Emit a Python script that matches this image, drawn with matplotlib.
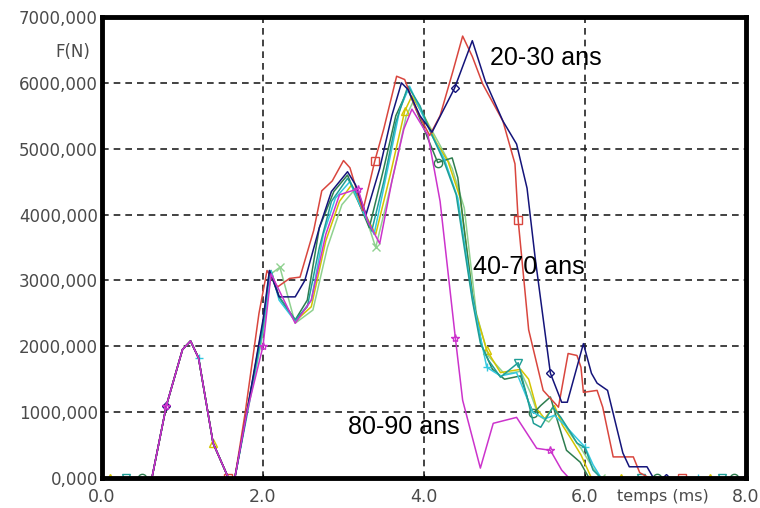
import matplotlib
matplotlib.use('Agg')
import matplotlib.pyplot as plt
import matplotlib.ticker as mticker

# debut commun a toutes les courbes (temps en ms, force en N)
t_debut = [0.0, 0.1, 0.3, 0.5, 0.62, 0.8, 1.0, 1.1, 1.2, 1.38, 1.57, 1.65]
f_debut = [0, 0, 0, 0, 0, 1100, 1950, 2080, 1820, 530, 0, 0]

# 20-30 ans
t_rouge = [1.78, 1.95, 2.05, 2.18, 2.33, 2.46, 2.63, 2.73, 2.86, 3.0, 3.08, 3.24, 3.33, 3.39,
           3.5, 3.66, 3.76, 3.9, 4.07, 4.2, 4.36, 4.48, 4.6, 4.73, 4.98, 5.13, 5.17, 5.3,
           5.48, 5.67, 5.79, 5.9, 5.95, 5.98, 6.15, 6.22, 6.35, 6.6, 6.68, 6.8, 7.2, 8.0]
f_rouge = [1000, 2500, 3150, 2900, 3030, 3050, 3760, 4360, 4510, 4820, 4710, 4060, 4510, 4820,
           5300, 6100, 6050, 5600, 5200, 5500, 6180, 6710, 6400, 5980, 5420, 4770, 3910, 2250,
           1330, 1075, 1890, 1860, 1680, 1300, 1330, 1075, 320, 320, 80, 0, 0, 0]

t_marine = [1.8, 2.0, 2.08, 2.2, 2.4, 2.52, 2.7, 2.85, 3.05, 3.15, 3.28, 3.45, 3.6, 3.72,
            3.8, 3.95, 4.1, 4.38, 4.6, 4.76, 4.98, 5.15, 5.28, 5.38, 5.57, 5.71, 5.78, 5.98,
            6.08, 6.15, 6.28, 6.47, 6.55, 6.77, 6.85, 7.0, 8.0]
f_marine = [1000, 2400, 3150, 2750, 2750, 3000, 3800, 4350, 4650, 4450, 4000, 4700, 5500, 6000,
            5900, 5500, 5250, 5920, 6640, 6030, 5420, 5070, 4400, 3350, 1590, 1150, 1150, 2040,
            1590, 1440, 1330, 380, 170, 170, 0, 0, 0]

# 80-90 ans
t_magenta = [1.8, 2.0, 2.1, 2.22, 2.4, 2.6, 2.78, 2.95, 3.18, 3.3, 3.45, 3.6, 3.75, 3.85,
             4.05, 4.2, 4.39, 4.48, 4.7, 4.86, 5.15, 5.4, 5.57, 5.71, 5.8, 8.0]
f_magenta = [1000, 2000, 3100, 2800, 2350, 2700, 3700, 4300, 4390, 3900, 3560, 4500, 5300, 5600,
             5200, 4200, 2120, 1180, 150, 830, 920, 450, 420, 120, 0, 0]

# 40-70 ans
t_sarcelle = [1.8, 2.0, 2.08, 2.2, 2.4, 2.55, 2.7, 2.85, 3.05, 3.2, 3.35, 3.5, 3.65, 3.8,
              3.95, 4.1, 4.25, 4.4, 4.6, 4.7, 4.8, 4.95, 5.17, 5.28, 5.36, 5.45, 5.6, 5.7,
              5.8, 5.9, 6.0, 6.1, 6.2, 6.7, 7.7, 8.0]
f_sarcelle = [1000, 2300, 3150, 2750, 2400, 2600, 3500, 4200, 4550, 4250, 3750, 4500, 5400, 5950,
              5650, 5200, 4800, 4300, 2700, 2050, 1790, 1530, 1750, 1230, 830, 770, 1075, 920,
              730, 530, 460, 120, 0, 0, 0, 0]

t_cyan = [1.8, 2.0, 2.1, 2.2, 2.4, 2.6, 2.75, 2.9, 3.08, 3.22, 3.38, 3.55, 3.7, 3.82,
          3.95, 4.1, 4.25, 4.42, 4.6, 4.7, 4.78, 4.95, 5.15, 5.25, 5.35, 5.5, 5.62, 5.75,
          5.9, 6.0, 6.1, 6.2, 7.4, 8.0]
f_cyan = [950, 2250, 3150, 2700, 2380, 2700, 3700, 4250, 4500, 4100, 3700, 4700, 5600, 5950,
          5600, 5200, 4850, 4250, 2750, 2150, 1680, 1550, 1600, 1300, 1000, 900, 950, 800,
          600, 470, 200, 0, 0, 0]

t_vert = [1.8, 2.0, 2.1, 2.2, 2.4, 2.55, 2.7, 2.88, 3.05, 3.2, 3.32, 3.5, 3.65, 3.8,
          4.0, 4.17, 4.35, 4.42, 4.6, 4.72, 4.85, 5.0, 5.2, 5.3, 5.36, 5.45, 5.57, 5.65,
          5.77, 5.94, 6.05, 6.9, 7.85, 8.0]
f_vert = [1000, 2350, 3150, 2750, 2400, 2700, 3800, 4350, 4600, 4150, 3800, 4700, 5500, 5900,
          5300, 4790, 4860, 4560, 2800, 2000, 1650, 1500, 1550, 1150, 985, 1100, 1230, 900,
          420, 240, 0, 0, 0, 0]

t_jaune = [1.8, 2.0, 2.1, 2.2, 2.4, 2.6, 2.78, 2.95, 3.1, 3.25, 3.4, 3.58, 3.76, 3.85,
           4.0, 4.15, 4.3, 4.45, 4.62, 4.78, 4.95, 5.2, 5.3, 5.4, 5.5, 5.62, 5.72, 5.85,
           5.95, 6.08, 6.45, 7.55, 8.0]
f_jaune = [1000, 2250, 3100, 2750, 2380, 2600, 3600, 4200, 4450, 4050, 3700, 4600, 5570, 5800,
           5500, 5100, 4800, 4250, 2600, 1940, 1600, 1650, 1500, 1050, 900, 1100, 800, 550,
           350, 0, 0, 0, 0]

t_vertclair = [1.8, 2.0, 2.1, 2.21, 2.4, 2.62, 2.8, 2.98, 3.12, 3.28, 3.4, 3.6, 3.78, 3.88,
               4.02, 4.2, 4.35, 4.5, 4.65, 4.8, 5.0, 5.2, 5.32, 5.42, 5.55, 5.65, 5.8, 5.95,
               6.1, 6.2, 8.0]
f_vertclair = [950, 2200, 3100, 3200, 2350, 2550, 3500, 4150, 4350, 3950, 3500, 4500, 5500, 5750,
               5450, 5050, 4700, 4100, 2500, 1850, 1580, 1620, 1300, 950, 850, 1000, 700, 450,
               150, 0, 0]

graduations_y = [0, 1000, 2000, 3000, 4000, 5000, 6000, 7000]
graduations_x = [0, 2, 4, 6, 8]

fig = plt.figure(figsize=(7.6, 5.08), dpi=100)
ax = fig.add_axes([0.1342, 0.0591, 0.8474, 0.9075])

# (temps, force, couleur, marqueur, index marqueurs debut, index marqueurs suite)
courbes = [
    (t_vertclair, f_vertclair, '#8fd18f', 'x', [], [3, 10, 29]),
    (t_jaune, f_jaune, '#d4c400', '^', [1, 9], [12, 19, 30, 31]),
    (t_vert, f_vert, '#2e7d4f', 'o', [3], [15, 24, 31, 32]),
    (t_cyan, f_cyan, '#33c8e0', '+', [8], [20, 29, 32]),
    (t_sarcelle, f_sarcelle, '#1f9e96', 'v', [2], [22, 33, 34]),
    (t_rouge, f_rouge, '#d9463e', 's', [10], [13, 26, 40]),
    (t_marine, f_marine, '#14147a', 'D', [5], [17, 24, 35, 36]),
    (t_magenta, f_magenta, '#cc33cc', '*', [5], [1, 8, 16, 22]),
]

n = len(t_debut)
for t, f, couleur, marq, idx_debut, idx in courbes:
    ax.plot(t_debut + t, f_debut + f, color=couleur, lw=1.1, marker=marq,
            markevery=idx_debut + [n + i for i in idx], ms=6 if marq != 'D' else 4.5,
            mfc='none', mew=1.0)

ax.set_xlim(0, 8)
ax.set_ylim(0, 7000)
ax.set_xticks(graduations_x)
ax.set_yticks(graduations_y)
ax.xaxis.set_major_formatter(mticker.FuncFormatter(lambda x, pos: '{:.1f}'.format(x)))
ax.yaxis.set_major_formatter(mticker.FuncFormatter(lambda y, pos: '{:.3f}'.format(y).replace('.', ',')))
ax.tick_params(axis='y', length=0, pad=3, labelsize=12, labelcolor='#4a4a4a')
ax.tick_params(axis='x', length=3, direction='in', pad=7, labelsize=12.5, labelcolor='#4a4a4a')

ax.grid(True, color='#222222', ls=(0, (4, 3)), lw=1.2)
ax.set_axisbelow(True)
for s in ax.spines.values():
    s.set_linewidth(3.5)
    s.set_color('black')

ax.text(4.82, 6380, '20-30 ans', fontsize=18, family='Liberation Sans', va='center')
ax.text(4.61, 3200, '40-70 ans', fontsize=18, family='Liberation Sans', va='center')
ax.text(3.06, 770, '80-90 ans', fontsize=18, family='Liberation Sans', va='center')

fig.text(90 / 760, 1 - 52 / 508, 'F(N)', ha='right', va='center', fontsize=12, color='#4a4a4a')
fig.text(663 / 760, 1 - 497 / 508, 'temps (ms)', ha='center', va='center', fontsize=11.5, color='#4a4a4a')

fig.savefig('out.png', dpi=100)
